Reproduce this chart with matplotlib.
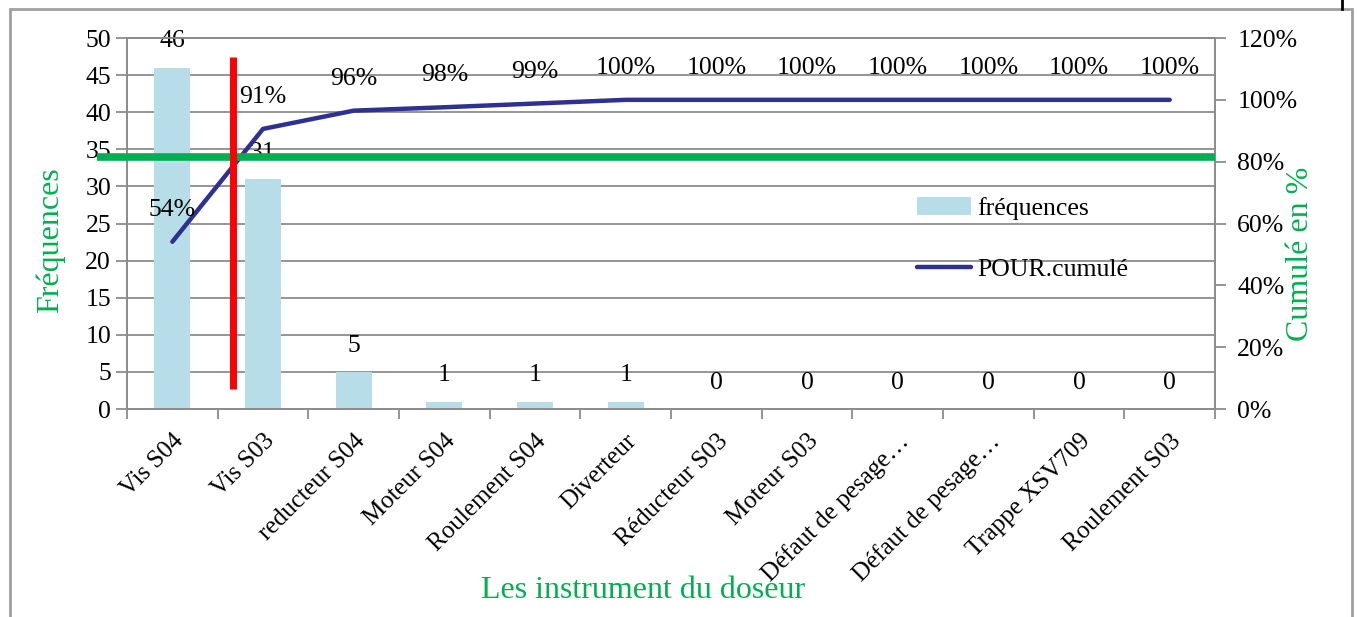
import matplotlib.pyplot as plt
from matplotlib.lines import Line2D
from matplotlib.patches import Rectangle
import numpy as np

plt.rcParams['font.family'] = ['Liberation Serif', 'DejaVu Serif']

# Data
instruments = ["Vis S04", "Vis S03", "reducteur S04", "Moteur S04", "Roulement S04",
               "Diverteur", "Réducteur S03", "Moteur S03", "Défaut de pesage…",
               "Défaut de pesage…", "Trappe XSV709", "Roulement S03"]
frequences = [46, 31, 5, 1, 1, 1, 0, 0, 0, 0, 0, 0]
cumul_pct = [54.1, 90.6, 96.5, 97.6, 98.8, 100, 100, 100, 100, 100, 100, 100]

seuil_80 = 34          # horizontal limit (left axis units)
coupure_x = 0.665      # vertical cut between the first two items
coupure_y = (2.7, 47.4)

bar_color = '#B7DEE8'
line_color = '#2E3192'
green = '#00B050'
grid_color = '#8C8C8C'
fs = 18.5

fig = plt.figure(figsize=(13.57, 6.17), dpi=100)
ax = fig.add_axes([0.0936, 0.3371, 0.8018, 0.6013])
ax2 = ax.twinx()

x = np.arange(len(instruments))

# bars
ax.bar(x, frequences, width=0.4, color=bar_color, zorder=2, label='fréquences')
for xi, v in zip(x, frequences):
    ax.annotate(str(v), (xi, v), xytext=(0, 19), textcoords='offset points',
                ha='center', va='center', fontsize=fs, zorder=3)

ax.set_xlim(-0.5, len(instruments) - 0.5)
ax.set_ylim(0, 50)
ax.set_yticks(np.arange(0, 51, 5))
ax.yaxis.grid(True, color=grid_color, lw=1.3)
ax.set_axisbelow(True)

# category labels at centers, tick marks at boundaries
ax.set_xticks(x)
ax.set_xticklabels(instruments, rotation=45, ha='right', rotation_mode='anchor', fontsize=18)
ax.set_xticks(np.arange(-0.5, len(instruments), 1), minor=True)
ax.tick_params(axis='x', which='major', length=0, pad=15)
ax.tick_params(axis='x', which='minor', length=7, color=grid_color, width=1.3)
ax.tick_params(axis='y', labelsize=fs, length=8, color=grid_color, width=1.3)

for s in list(ax.spines.values()) + list(ax2.spines.values()):
    s.set_color(grid_color)
    s.set_linewidth(1.3)

# cumulative percentage line
ax2.plot(x, cumul_pct, color=line_color, lw=3.2, solid_capstyle='round', zorder=3,
         label='POUR.cumulé')
for xi, v in zip(x, cumul_pct):
    ax2.annotate(f"{v:.0f}%", (xi, v), xytext=(0, 23), textcoords='offset points',
                 ha='center', va='center', fontsize=fs)
ax2.set_ylim(0, 120)
ax2.set_yticks(np.arange(0, 121, 20))
ax2.set_yticklabels([f"{t}%" for t in range(0, 121, 20)])
ax2.tick_params(axis='y', labelsize=fs, length=8, color=grid_color, width=1.3, pad=8)

# 80 % threshold and cut line
ax2.add_line(Line2D([-0.83, len(instruments) - 0.5], [seuil_80 * 120 / 50] * 2,
                    color=green, lw=5.5, solid_capstyle='butt', clip_on=False, zorder=5))
ax2.add_line(Line2D([coupure_x, coupure_x], [c * 120 / 50 for c in coupure_y],
                    color='#FF0000', lw=5, solid_capstyle='butt', zorder=6))

# axis titles
fig.text(50 / 1357, 1 - 240 / 617, 'Fréquences', color=green, fontsize=23,
         rotation=90, ha='center', va='center')
fig.text(1300 / 1357, 1 - 254 / 617, 'Cumulé en %', color=green, fontsize=23,
         rotation=90, ha='center', va='center')
fig.text(643 / 1357, 1 - 590 / 617, 'Les instrument du doseur', color=green, fontsize=23,
         ha='center', va='center')

# legend
h1, l1 = ax.get_legend_handles_labels()
h2, l2 = ax2.get_legend_handles_labels()
fig.legend(h1 + h2, l1 + l2, loc='center left', bbox_to_anchor=(917 / 1357, 1 - 239 / 617),
           frameon=False, fontsize=fs, borderpad=0, borderaxespad=0, handlelength=2.1,
           handletextpad=0.25, labelspacing=1.5)

# outer frame
fig.patches.append(Rectangle((10 / 1357, -0.05), 1342 / 1357, 1.05 - 9 / 617,
                             transform=fig.transFigure, fill=False, ec='#A0A0A0', lw=2))
fig.lines.append(Line2D([1342 / 1357] * 2, [1, 1 - 9 / 617], transform=fig.transFigure,
                        color='black', lw=2))

fig.savefig('out.png', dpi=100)
